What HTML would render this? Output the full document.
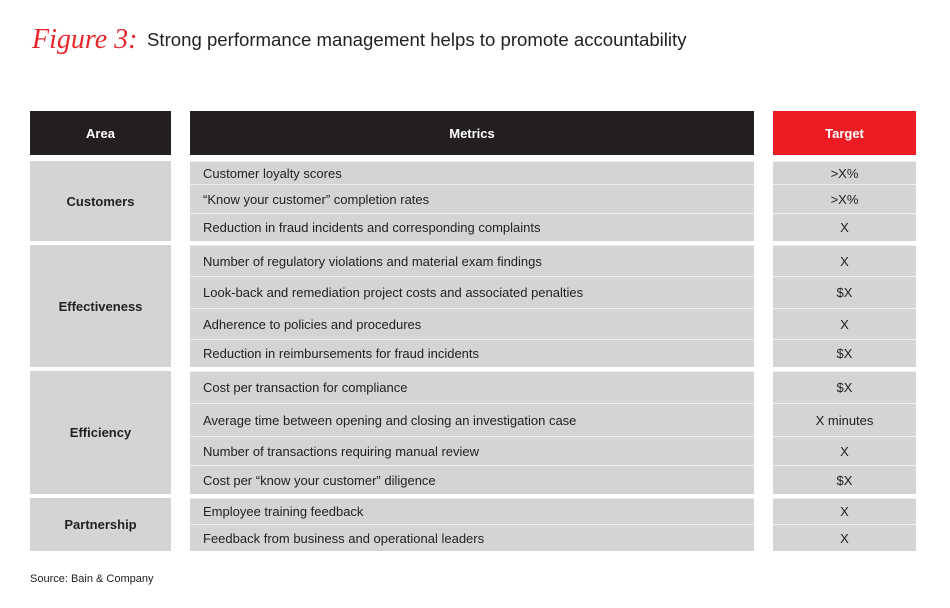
<!DOCTYPE html>
<html><head><meta charset="utf-8"><style>
body{margin:0;width:950px;height:608px;background:#fff;font-family:"Liberation Sans",sans-serif;position:relative;overflow:hidden}
.a{position:absolute;box-sizing:border-box}
.t{display:flex;align-items:center;color:#222;font-size:13px}
.g{background:#d3d4d5}
.hd{background:#231f20;color:#fff;font-weight:bold;font-size:13px;justify-content:center}
.c{justify-content:center}
.l{border-top:1px solid #eee}
</style></head><body>
<div class="a" style="left:32px;top:24px;font-family:'Liberation Serif',serif;font-style:italic;color:#e8262b;font-size:28px">Figure 3:</div>
<div class="a" style="left:147px;top:29px;font-size:18.6px;color:#222">Strong performance management helps to promote accountability</div>
<div class="a t hd" style="left:30px;top:111px;width:141px;height:44px">Area</div>
<div class="a t hd" style="left:190px;top:111px;width:564px;height:44px">Metrics</div>
<div class="a t hd" style="left:773px;top:111px;width:143px;height:44px;background:#ed1c24">Target</div>
<div class="a t g c" style="left:30px;top:161px;width:141px;height:80px;font-weight:bold">Customers</div>
<div class="a t g c" style="left:30px;top:245px;width:141px;height:122px;font-weight:bold">Effectiveness</div>
<div class="a t g c" style="left:30px;top:371px;width:141px;height:123px;font-weight:bold">Efficiency</div>
<div class="a t g c" style="left:30px;top:498px;width:141px;height:53px;font-weight:bold">Partnership</div>
<div id="rows"></div>
<div class="a" style="left:30px;top:573px;font-size:11px;color:#222">Source: Bain &amp; Company</div>
<script>
var r=[[161,184,"Customer loyalty scores",">X%"],[184,213,"“Know your customer” completion rates",">X%"],[213,241,"Reduction in fraud incidents and corresponding complaints","X"],
[245,276,"Number of regulatory violations and material exam findings","X"],[276,308,"Look-back and remediation project costs and associated penalties","$X"],[308,339,"Adherence to policies and procedures","X"],[339,367,"Reduction in reimbursements for fraud incidents","$X"],
[371,403,"Cost per transaction for compliance","$X"],[403,436,"Average time between opening and closing an investigation case","X minutes"],[436,465,"Number of transactions requiring manual review","X"],[465,494,"Cost per “know your customer” diligence","$X"],
[498,524,"Employee training feedback","X"],[524,551,"Feedback from business and operational leaders","X"]];
var h="";r.forEach(function(x){var ht=x[1]-x[0];
h+='<div class="a t g l" style="left:190px;top:'+x[0]+'px;width:564px;height:'+ht+'px;padding-left:13px">'+x[2]+'</div>';
h+='<div class="a t g c l" style="left:773px;top:'+x[0]+'px;width:143px;height:'+ht+'px">'+x[3]+'</div>';});
document.getElementById("rows").outerHTML=h;
</script>
</body></html>
